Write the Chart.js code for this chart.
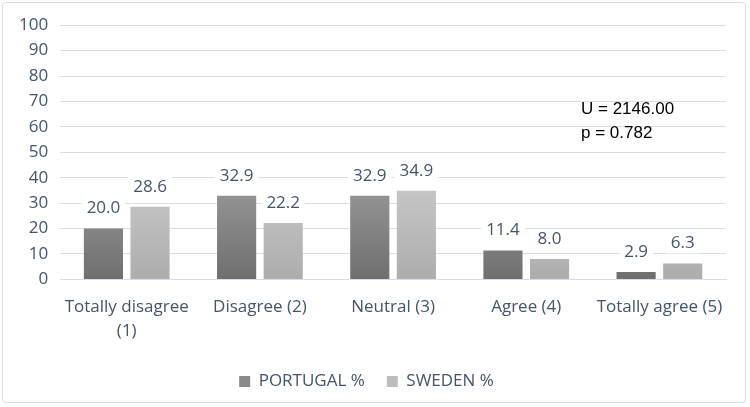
<!DOCTYPE html>
<html>
<head>
<meta charset="utf-8">
<script src="https://cdn.jsdelivr.net/npm/chart.js@4.4.0/dist/chart.umd.min.js"></script>
<style>
  html, body { margin: 0; padding: 0; background: #fff; }
  #wrap {
    position: absolute; left: 2px; top: 2px; width: 744px; height: 401px;
    border: 1px solid #d9dde3; border-radius: 4px; box-sizing: border-box;
  }
</style>
</head>
<body>
<div id="wrap"><canvas id="chart" width="742" height="399"></canvas></div>
<script>
const categories = [['Totally disagree', '(1)'], 'Disagree (2)', 'Neutral (3)', 'Agree (4)', 'Totally agree (5)'];
const portugal = [20.0, 32.9, 32.9, 11.4, 2.9];
const sweden = [28.6, 22.2, 34.9, 8.0, 6.3];
const seriesNames = ['PORTUGAL %', 'SWEDEN %'];
const statLines = ['U = 2146.00', 'p = 0.782'];

const textColor = '#44546a';
const fontFamily = "'Open Sans', 'Noto Sans', sans-serif";

// gradient fill for bars (darker toward the base)
function barGradient(top, bottom) {
    return (context) => {
        const { chart } = context;
        const area = chart.chartArea;
        if (!area) return top;
        const g = chart.ctx.createLinearGradient(0, area.top + 150, 0, area.bottom);
        g.addColorStop(0, top);
        g.addColorStop(1, bottom);
        return g;
    };
}

// value labels above bars with white background
const valueLabels = {
    id: 'valueLabels',
    afterDatasetsDraw(chart) {
        const { ctx } = chart;
        ctx.save();
        ctx.font = "17px " + fontFamily;
        ctx.textAlign = 'center';
        ctx.textBaseline = 'middle';
        chart.data.datasets.forEach((ds, i) => {
            chart.getDatasetMeta(i).data.forEach((bar, j) => {
                const txt = ds.data[j].toFixed(1);
                const y = bar.y - 20;
                const w = ctx.measureText(txt).width;
                ctx.fillStyle = '#fff';
                ctx.fillRect(bar.x - w / 2 - 5, y - 10, w + 10, 20);
                ctx.fillStyle = textColor;
                ctx.fillText(txt, bar.x, y);
            });
        });
        ctx.restore();
    }
};

// U / p annotation
const statText = {
    id: 'statText',
    afterDraw(chart) {
        const { ctx } = chart;
        ctx.save();
        ctx.font = "17px 'Liberation Sans', Arial, sans-serif";
        ctx.fillStyle = '#000';
        ctx.textBaseline = 'middle';
        statLines.forEach((t, i) => ctx.fillText(t, 578, 106 + i * 24));
        ctx.restore();
    }
};

new Chart(document.getElementById('chart'), {
    type: 'bar',
    data: {
        labels: categories,
        datasets: [{
            label: seriesNames[0],
            data: portugal,
            backgroundColor: barGradient('#9a9a9a', '#6f6f6f'),
            borderWidth: 0,
            barPercentage: 0.84,
            categoryPercentage: 0.7
        }, {
            label: seriesNames[1],
            data: sweden,
            backgroundColor: barGradient('#c9c9c9', '#adadad'),
            borderWidth: 0,
            barPercentage: 0.84,
            categoryPercentage: 0.7
        }]
    },
    options: {
        responsive: false,
        animation: false,
        layout: { padding: { left: 4, right: 19, top: 5, bottom: 2 } },
        scales: {
            x: {
                grid: { display: false },
                border: { display: true, color: '#d9dde3', width: 1 },
                ticks: { color: textColor, font: { size: 17, family: fontFamily, lineHeight: 1.4 }, maxRotation: 0, padding: 8 }
            },
            y: {
                min: 0, max: 100,
                ticks: { stepSize: 10, color: textColor, font: { size: 17, family: fontFamily }, padding: 12 },
                grid: { color: '#d9dde3', drawTicks: false },
                border: { display: false }
            }
        },
        plugins: {
            legend: {
                position: 'bottom',
                labels: {
                    color: textColor,
                    font: { size: 17, family: fontFamily },
                    boxWidth: 11, boxHeight: 11,
                    padding: 22,
                    generateLabels: () => [
                        { text: seriesNames[0], fillStyle: '#8a8a8a', strokeStyle: '#8a8a8a', lineWidth: 0, datasetIndex: 0, fontColor: textColor },
                        { text: seriesNames[1], fillStyle: '#bdbdbd', strokeStyle: '#bdbdbd', lineWidth: 0, datasetIndex: 1, fontColor: textColor }
                    ]
                }
            },
            tooltip: { enabled: false }
        }
    },
    plugins: [valueLabels, statText]
});
</script>
</body>
</html>
